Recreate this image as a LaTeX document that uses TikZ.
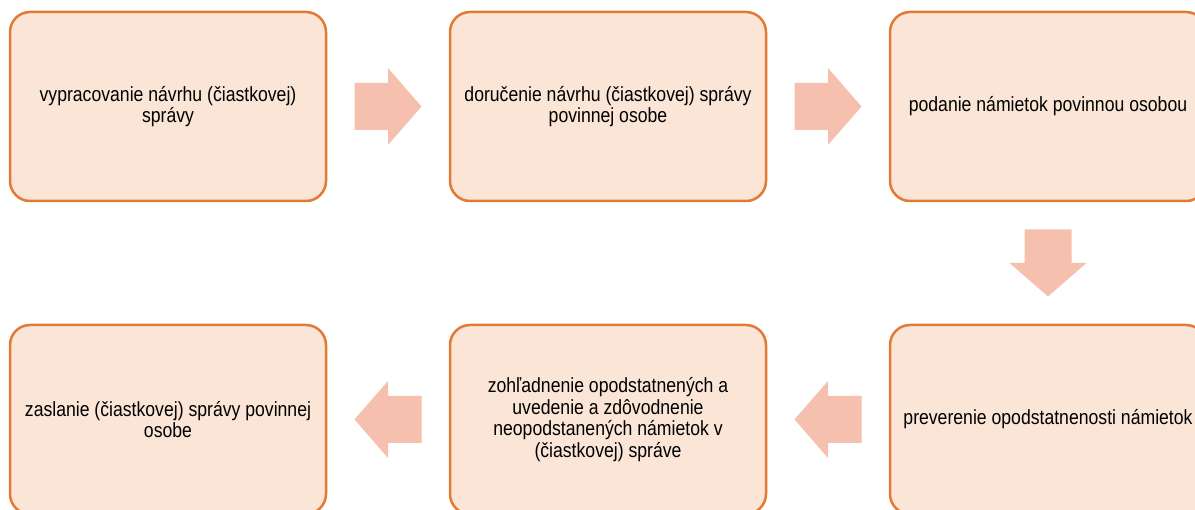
\documentclass[tikz,border=0pt]{standalone}
\usepackage{fontspec}
\setmainfont{Liberation Sans}[FakeStretch=0.86]
\usetikzlibrary{calc}
\definecolor{boxfill}{HTML}{FBE5D6}
\definecolor{boxline}{HTML}{E27A36}
\definecolor{arrowfill}{HTML}{F5C0AD}
\begin{document}
\begin{tikzpicture}[x=1pt,y=-1pt,
  stepbox/.style={draw=boxline, fill=boxfill, line width=2.5pt, rounded corners=20pt,
    minimum width=316pt, minimum height=189pt, align=center, inner sep=0pt,
    font=\fontsize{20.5}{21.7}\selectfont},
  pics/blockarrow/.style={code={
    \fill[arrowfill] (-33.5,-23.5) -- (0,-23.5) -- (0,-38.5) -- (33.5,0)
      -- (0,38.5) -- (0,23.5) -- (-33.5,23.5) -- cycle;}}]
\useasboundingbox (0,0) rectangle (1195,510);
\node[stepbox] (b1) at (168,106.5) {vypracovanie návrhu (čiastkovej)\\správy};
\node[stepbox] (b2) at (608,106.5) {doručenie návrhu (čiastkovej) správy\\povinnej osobe};
\node[stepbox] (b3) at (1048,106.5) {podanie námietok povinnou osobou};
\node[stepbox] (b4) at (1048,419.5) {preverenie opodstatnenosti námietok};
\node[stepbox] (b5) at (608,419.5) {zohľadnenie opodstatnených a\\uvedenie a zdôvodnenie\\neopodstanených námietok v\\(čiastkovej) správe};
\node[stepbox] (b6) at (168,419.5) {zaslanie (čiastkovej) správy povinnej\\osobe};
\coordinate (m1) at ($(b1.east)!0.5!(b2.west)$);
\coordinate (m2) at ($(b2.east)!0.5!(b3.west)$);
\coordinate (m3) at ($(b3.south)!0.5!(b4.north)$);
\coordinate (m4) at ($(b4.west)!0.5!(b5.east)$);
\coordinate (m5) at ($(b5.west)!0.5!(b6.east)$);
\pic at (m1) {blockarrow};
\pic at (m2) {blockarrow};
\pic[rotate=-90] at (m3) {blockarrow};
\pic[rotate=180] at (m4) {blockarrow};
\pic[rotate=180] at (m5) {blockarrow};
\end{tikzpicture}
\end{document}
